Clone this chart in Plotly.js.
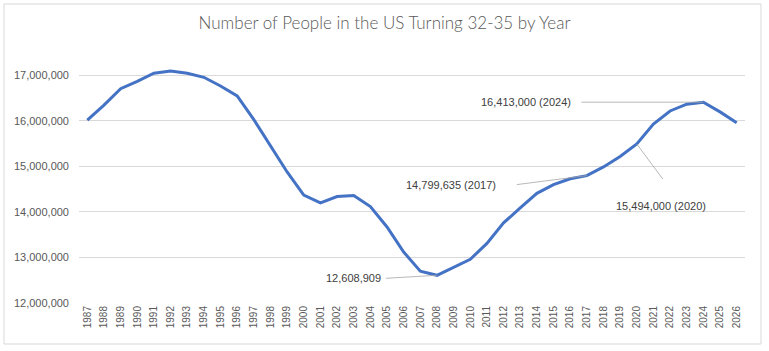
<!DOCTYPE html>
<html>
<head>
<meta charset="utf-8">
<script src="https://cdn.plot.ly/plotly-3.0.1.min.js"></script>
<style>
html,body{margin:0;padding:0;background:#fff;}
#chart{width:769px;height:351px;}
</style>
</head>
<body>
<div id="chart"></div>
<script>
const years = ["1987","1988","1989","1990","1991","1992","1993","1994","1995","1996",
  "1997","1998","1999","2000","2001","2002","2003","2004","2005","2006",
  "2007","2008","2009","2010","2011","2012","2013","2014","2015","2016",
  "2017","2018","2019","2020","2021","2022","2023","2024","2025","2026"];
const people = [16020000,16350000,16710000,16870000,17050000,17100000,17050000,16960000,16770000,16550000,
  16030000,15450000,14880000,14370000,14200000,14340000,14360000,14120000,13670000,13120000,
  12700000,12608909,12780000,12960000,13310000,13760000,14090000,14410000,14600000,14730000,
  14799635,14990000,15220000,15494000,15930000,16220000,16370000,16413000,16200000,15960000];
const yTickVals = [12000000,13000000,14000000,15000000,16000000,17000000];
const yTickText = ["12,000,000","13,000,000","14,000,000","15,000,000","16,000,000","17,000,000"];
const noteYears = ["2008","2017","2020","2024"];
const noteTexts = ["12,608,909","14,799,635 (2017)","15,494,000 (2020)","16,413,000 (2024)"];

// placement of the data labels (pixels, relative to the point; y positive = up)
const notePlacement = [
  {tx: -83, ty: -3, lx: -51, ly: -3},
  {tx: -135.5, ty: -9, lx: -70, ly: -9},
  {tx: 24, ty: -62, lx: 26, ly: -35},
  {tx: -177, ty: 0, lx: -122, ly: 0}
];

const annotations = [];
const shapes = [{type: 'rect', xref: 'paper', yref: 'paper',
  x0: -0.1126, x1: 1.0240, y0: -0.1687, y1: 1.2305,
  line: {color: '#d9d9d9', width: 1}, fillcolor: 'rgba(0,0,0,0)', layer: 'below'}];

noteYears.forEach((yr, i) => {
  const idx = years.indexOf(yr);
  const p = notePlacement[i];
  annotations.push({
    x: idx, y: people[idx], xref: 'x', yref: 'y',
    text: noteTexts[i], showarrow: false, xshift: p.tx, yshift: p.ty,
    xanchor: 'center', yanchor: 'middle',
    font: {family: 'Liberation Sans, Arial, sans-serif', size: 11, color: '#404040'}
  });
  shapes.push({
    type: 'line', xref: 'x', yref: 'y',
    xsizemode: 'pixel', ysizemode: 'pixel', xanchor: idx, yanchor: people[idx],
    x0: 0, y0: 0, x1: p.lx, y1: p.ly,
    line: {color: '#a6a6a6', width: 0.8}, layer: 'above'
  });
});

const trace = {
  x: years, y: people, type: 'scatter', mode: 'lines',
  line: {color: '#4472C4', width: 3}, hoverinfo: 'skip'
};

const layout = {
  width: 769, height: 351,
  margin: {l: 79, r: 24, t: 60, b: 48},
  paper_bgcolor: '#ffffff', plot_bgcolor: '#ffffff',
  showlegend: false,
  title: {text: 'Number of People in the US Turning 32-35 by Year',
    font: {family: 'Lato, sans-serif', size: 17, color: '#595959', weight: 300},
    x: 0.5, xref: 'container', xanchor: 'center', y: 0.935, yref: 'container', yanchor: 'middle'},
  xaxis: {type: 'category', range: [-0.5, 39.5], tickangle: -90,
    showgrid: false, showline: false, zeroline: false, ticks: '',
    tickfont: {family: 'Liberation Sans, Arial, sans-serif', size: 10, color: '#595959'},
    fixedrange: true},
  yaxis: {range: [12000000, 17340000], tickvals: yTickVals, ticktext: yTickText,
    showgrid: true, gridcolor: '#d9d9d9', gridwidth: 1, showline: false, zeroline: false,
    ticks: '', ticklabelstandoff: 9,
    tickfont: {family: 'Liberation Sans, Arial, sans-serif', size: 11, color: '#595959'},
    fixedrange: true},
  annotations: annotations,
  shapes: shapes
};

Plotly.newPlot('chart', [trace], layout, {displayModeBar: false, staticPlot: true});
</script>
</body>
</html>
